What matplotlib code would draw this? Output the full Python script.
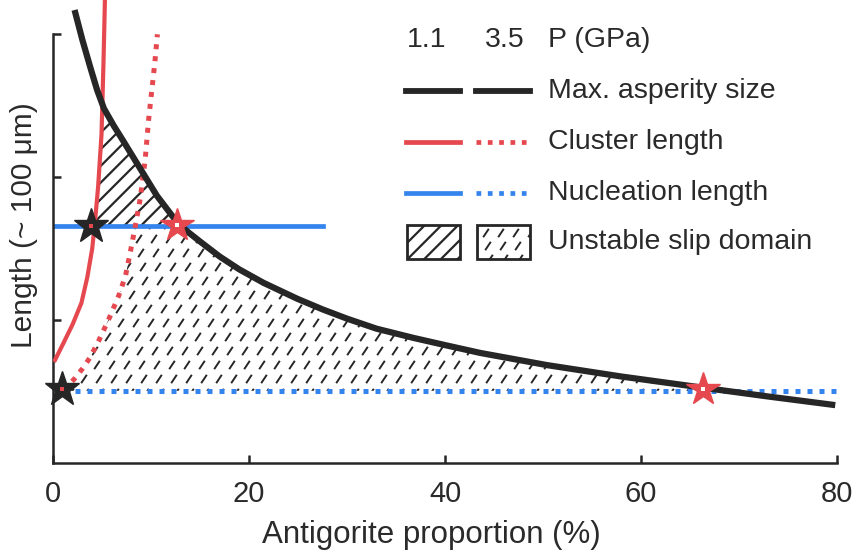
import numpy as np
import matplotlib
matplotlib.use("Agg")
import matplotlib.pyplot as plt
from matplotlib import font_manager
from matplotlib.patches import Polygon, Rectangle
from matplotlib.lines import Line2D
from matplotlib.collections import LineCollection
from matplotlib.transforms import IdentityTransform

# --- data (x = antigorite %, y = length in ~100 um) ---
asp_x = [2.2, 3.0, 3.8, 4.5, 5.2, 6.2, 7.2, 8.9, 10.6, 12.6, 13.8, 15.0, 17.0, 19.0,
         21.5, 24.9, 27.5, 30.0, 33.0, 36.8, 40.0, 43.6, 50.4, 58.0, 66.3, 73.0, 79.8]
asp_y = [3.17, 2.96, 2.77, 2.61, 2.48, 2.36, 2.25, 2.06, 1.87, 1.69, 1.615, 1.55, 1.445, 1.355,
         1.26, 1.15, 1.075, 1.01, 0.94, 0.875, 0.825, 0.77, 0.685, 0.605, 0.527, 0.465, 0.405]

clu11_x = [0.2, 1.0, 2.0, 2.9, 3.5, 4.0, 4.3, 4.6, 4.95, 5.15, 5.3]
clu11_y = [0.72, 0.83, 0.97, 1.12, 1.30, 1.50, 1.70, 1.93, 2.30, 2.80, 3.25]

clu35_x = [1.1, 2.2, 3.0, 3.8, 4.7, 5.65, 6.7, 7.4, 7.9, 8.4, 8.9, 9.4, 9.75, 10.1, 10.4, 10.65]
clu35_y = [0.51, 0.59, 0.66, 0.74, 0.86, 1.00, 1.17, 1.31, 1.48, 1.66, 1.85, 2.12, 2.40, 2.62, 2.81, 3.0]

nuc11_x = [0.0, 27.55]
nuc11_y = [1.66, 1.66]
nuc35_x = [1.0, 80.3]
nuc35_y = [0.505, 0.505]

star_black = ([3.9, 0.95], [1.66, 0.52])
star_red = ([12.6, 66.3], [1.665, 0.52])

xticks = [0, 20, 40, 60, 80]
yticks = [1, 2, 3]

BLACK = '#262626'
RED = '#e5484f'
BLUE = '#3584ee'
TXT = '#2a2a2a'

names = {f.name for f in font_manager.fontManager.ttflist}
narrow = 'Liberation Sans Narrow' if 'Liberation Sans Narrow' in names else 'Liberation Sans'
plt.rcParams['font.family'] = ['Liberation Sans', 'DejaVu Sans']

W, H = 854, 552
fig = plt.figure(figsize=(W / 100, H / 100), dpi=100)
ax = fig.add_axes([53 / W, 89 / H, 794 / W, 463 / H])
ax.set_xlim(0, 81)
ax.set_ylim(0, 3.24)


def fx(px):
    return px / W


def fy(py):
    return 1 - py / H


def add_dashes(container, clip_patch, x0, y0, x1, y1, sx=15.0, sy=14.0, shift=-2.0,
               ddx=2.8, ddy=4.2):
    # short slanted dashes (display pixels) clipped to a patch
    segs = []
    row = 0
    for yc in np.arange(y0 - sy, y1 + sy, sy):
        off = (row * shift) % sx
        for xc in np.arange(x0 - sx + off, x1 + sx, sx):
            segs.append([(xc - ddx, yc - ddy), (xc + ddx, yc + ddy)])
        row += 1
    lc = LineCollection(segs, colors=BLACK, linewidths=1.4, transform=IdentityTransform(), zorder=1)
    if container is fig:
        fig.add_artist(lc)
    else:
        container.add_collection(lc, autolim=False)
    lc.set_clip_path(clip_patch)


# --- unstable slip domains ---
bx = np.array(asp_x[::-1])
by = np.array(asp_y[::-1])

yy = np.linspace(nuc35_y[0], nuc11_y[0], 200)
xl = np.interp(yy, clu35_y, clu35_x)
xr = np.interp(yy, by, bx)
verts35 = list(zip(xl, yy)) + list(zip(xr[::-1], yy[::-1]))
poly35 = Polygon(verts35, closed=True, facecolor='none', edgecolor='none', zorder=1)
ax.add_patch(poly35)
fig.canvas.draw()
bb = ax.bbox
add_dashes(ax, poly35, bb.x0, bb.y0, bb.x1, bb.y1)

yy2 = np.linspace(nuc11_y[0], 3.2, 600)
xl2 = np.interp(yy2, clu11_y, clu11_x)
xr2 = np.interp(yy2, by, bx)
keep = xl2 <= xr2
verts11 = list(zip(xl2[keep], yy2[keep])) + list(zip(xr2[keep][::-1], yy2[keep][::-1]))
plt.rcParams['hatch.linewidth'] = 1.6
poly11 = Polygon(verts11, closed=True, facecolor='none', edgecolor=BLACK, hatch='//',
                 linewidth=0, zorder=1)
ax.add_patch(poly11)

# --- curves ---
dots = (0, (1.0, 1.4))
ax.plot(nuc35_x, nuc35_y, color=BLUE, lw=3.6, linestyle=dots, zorder=2, clip_on=False)
ax.plot(nuc11_x, nuc11_y, color=BLUE, lw=3.4, zorder=2)
ax.plot(clu35_x, clu35_y, color=RED, lw=3.6, linestyle=dots, zorder=3)
ax.plot(clu11_x, clu11_y, color=RED, lw=3.0, zorder=3)
ax.plot(asp_x, asp_y, color=BLACK, lw=4.5, zorder=4, solid_capstyle='butt')

ax.plot(*star_black, linestyle='none', marker='*', ms=26, color=BLACK, mec=BLACK, mew=1,
        zorder=6, clip_on=False)
ax.plot(*star_black, linestyle='none', marker='s', ms=2.5, color=RED, mew=0, zorder=7, clip_on=False)
ax.plot(*star_red, linestyle='none', marker='*', ms=25, color=RED, mec=RED, mew=1, zorder=6)
ax.plot(*star_red, linestyle='none', marker='s', ms=3.5, color='white', mew=0, zorder=7)

# --- axes styling ---
for s in ('top', 'right'):
    ax.spines[s].set_visible(False)
for s in ('left', 'bottom'):
    ax.spines[s].set_linewidth(1.8)
    ax.spines[s].set_color(BLACK)
ax.spines['left'].set_bounds(0, 3)
ax.spines['bottom'].set_bounds(0, 80)
ax.set_xticks(xticks)
ax.set_yticks(yticks)
ax.set_yticklabels([])
ax.tick_params(direction='in', length=6, width=1.8, color=BLACK, pad=12,
               labelsize=21, labelcolor=TXT)
for lab in ax.get_xticklabels():
    lab.set_family(narrow)
ax.set_xlabel('Antigorite proportion (%)', fontsize=22.5, color=TXT, family=narrow)
ax.xaxis.set_label_coords((431 - 53) / 794, -(520 - 463) / 463)
ax.set_ylabel('Length (~ 100 μm)', fontsize=21.5, color=TXT, family=narrow)
ax.yaxis.set_label_coords(-15 / 794, (463 - 225) / 463)

# --- legend drawn by hand ---
fs = 20.5
fig.text(fx(427), fy(40), '1.1', fontsize=fs, color=TXT, ha='center', va='center')
fig.text(fx(505), fy(40), '3.5', fontsize=fs, color=TXT, ha='center', va='center')
fig.text(fx(548), fy(40), 'P (GPa)', fontsize=fs, color=TXT, ha='left', va='center')

rows = [
    (91, 'Max. asperity size', BLACK, BLACK, 4.2, '-', '-'),
    (142, 'Cluster length', RED, RED, 3.4, '-', dots),
    (193, 'Nucleation length', BLUE, BLUE, 3.4, '-', dots),
]
for py, label, c1, c2, lw, ls1, ls2 in rows:
    fig.add_artist(Line2D([fx(406), fx(460)], [fy(py), fy(py)], color=c1, lw=lw, linestyle=ls1))
    fig.add_artist(Line2D([fx(476), fx(530)], [fy(py), fy(py)], color=c2, lw=lw, linestyle=ls2))
    fig.text(fx(548), fy(py), label, fontsize=fs, color=TXT, ha='left', va='center')

box1 = Rectangle((fx(407), fy(259)), 53 / W, 34 / H, transform=fig.transFigure,
                 facecolor='white', edgecolor=BLACK, hatch='//', linewidth=2.0)
fig.add_artist(box1)
box2 = Rectangle((fx(477), fy(259)), 53 / W, 34 / H, transform=fig.transFigure,
                 facecolor='none', edgecolor=BLACK, linewidth=2.0, zorder=2)
fig.add_artist(box2)
add_dashes(fig, box2, 477, H - 259, 530, H - 225, sx=15, sy=13)
fig.text(fx(548), fy(242), 'Unstable slip domain', fontsize=fs, color=TXT, ha='left', va='center')

fig.savefig('out.png', dpi=100)
